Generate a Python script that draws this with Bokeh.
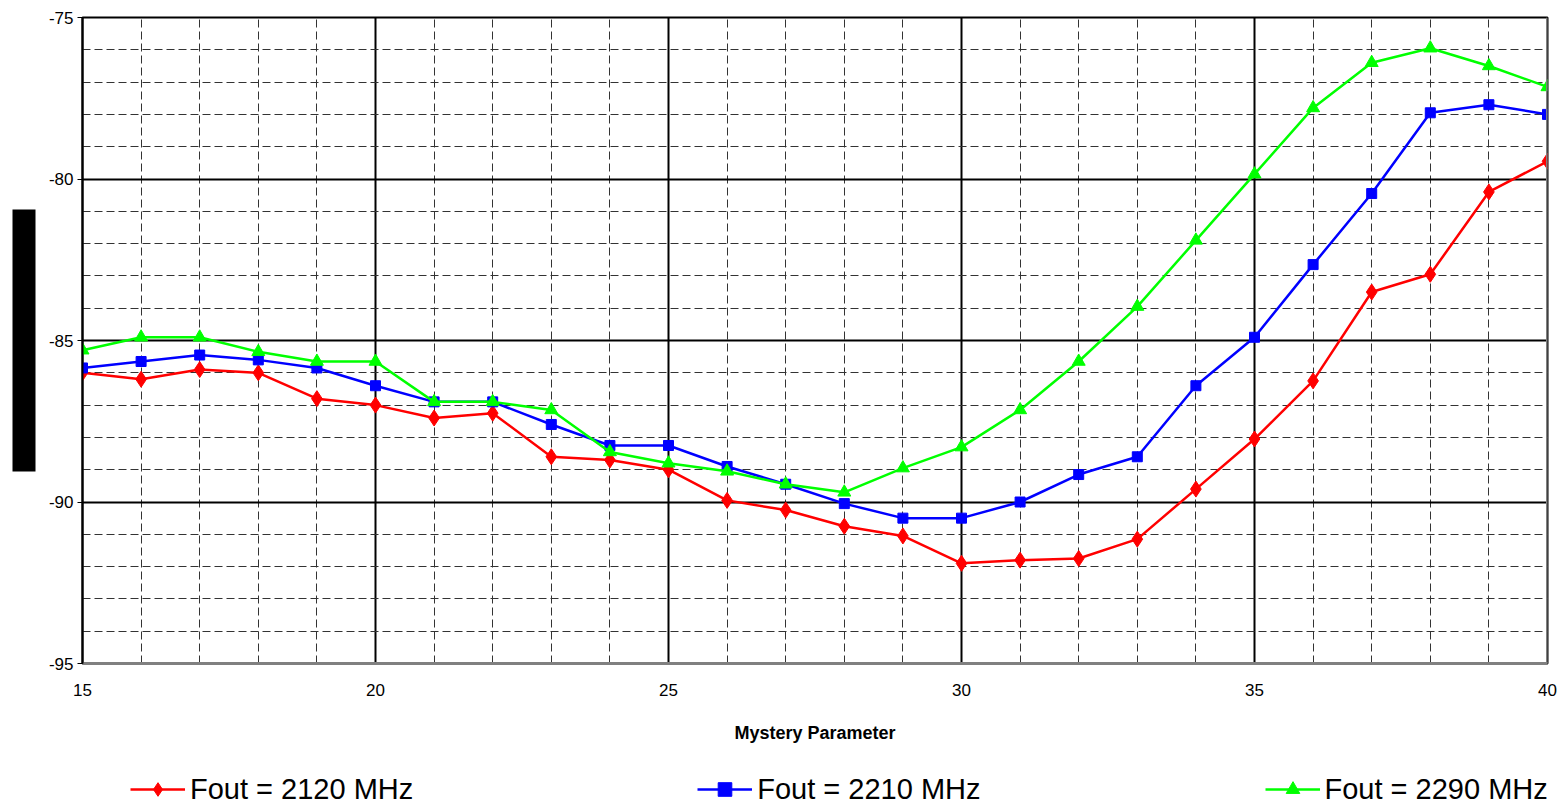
from bokeh.plotting import figure
from bokeh.layouts import column
from bokeh.models import (SingleIntervalTicker, Legend, LegendItem, Span, Title, PrintfTickFormatter)
from bokeh.embed import file_html
from bokeh.resources import INLINE

# ---- data ----
x_vals = list(range(15, 41))
fout_2120 = [-86.0, -86.2, -85.9, -86.0, -86.8, -87.0, -87.4, -87.25, -88.6, -88.7,
             -89.0, -89.95, -90.25, -90.75, -91.05, -91.9, -91.8, -91.75, -91.15, -89.6,
             -88.05, -86.25, -83.5, -82.95, -80.4, -79.45]
fout_2210 = [-85.85, -85.65, -85.45, -85.6, -85.85, -86.4, -86.9, -86.9, -87.6, -88.25,
             -88.25, -88.9, -89.45, -90.05, -90.5, -90.5, -90.0, -89.15, -88.6, -86.4,
             -84.9, -82.65, -80.45, -77.95, -77.7, -78.0]
fout_2290 = [-85.3, -84.9, -84.9, -85.35, -85.65, -85.65, -86.9, -86.9, -87.15, -88.45,
             -88.8, -89.05, -89.45, -89.7, -88.95, -88.3, -87.15, -85.65, -83.95, -81.9,
             -79.85, -77.8, -76.4, -75.95, -76.5, -77.15]
series_labels = ["Fout = 2120 MHz", "Fout = 2210 MHz", "Fout = 2290 MHz"]
series_colors = ["#FF0000", "#0000FF", "#00FF00"]
series_markers = ["diamond", "square", "triangle"]
marker_sizes = [16, 10, 13]
x_title = "Mystery Parameter"
series_values = [fout_2120, fout_2210, fout_2290]

fig = figure(width=1558, height=760, x_range=(15, 40), y_range=(-95, -75),
             output_backend="svg", toolbar_location=None,
             min_border_left=82, min_border_right=11, min_border_top=17, min_border_bottom=97)
fig.background_fill_color = "white"
fig.border_fill_color = "white"
fig.outline_line_color = "black"
fig.outline_line_width = 2

fig.xaxis.ticker = SingleIntervalTicker(interval=5, num_minor_ticks=5)
fig.yaxis.ticker = SingleIntervalTicker(interval=5, num_minor_ticks=5)
fig.yaxis.formatter = PrintfTickFormatter(format="%d")
fig.xaxis.formatter = PrintfTickFormatter(format="%d")

for g in (fig.xgrid, fig.ygrid):
    g.grid_line_color = "black"
    g.grid_line_width = 2
    g.grid_line_alpha = 1
    g.minor_grid_line_color = "#333333"
    g.minor_grid_line_width = 1
    g.minor_grid_line_dash = "8 4"

ya = fig.yaxis[0]
ya.axis_line_color = "black"
ya.axis_line_width = 2
ya.major_tick_out = 5
ya.major_tick_in = 0
ya.minor_tick_out = 0
ya.minor_tick_in = 0
ya.major_tick_line_color = "black"
ya.major_label_text_font = "Liberation Sans"
ya.major_label_text_font_size = "17px"
ya.major_label_text_color = "black"
ya.major_label_standoff = 4

xa = fig.xaxis[0]
xa.axis_line_color = "#808080"
xa.axis_line_width = 3
xa.major_tick_out = 0
xa.major_tick_in = 0
xa.minor_tick_out = 0
xa.minor_tick_in = 0
xa.major_label_text_font = "Liberation Sans"
xa.major_label_text_font_size = "17px"
xa.major_label_text_color = "black"
xa.major_label_standoff = 20
xa.axis_label = x_title
xa.axis_label_text_font = "Liberation Sans"
xa.axis_label_text_font_style = "bold"
xa.axis_label_text_font_size = "18px"
xa.axis_label_text_color = "black"
xa.axis_label_standoff = 24

fig.add_layout(Span(location=40, dimension="height", line_color="#808080", line_width=3))

# black (redacted) block left of the y axis
block = Title(text="\u2003" * 16, text_font_size="16px", text_color="black",
              background_fill_color="black", background_fill_alpha=1,
              padding=3, align="center", standoff=20)
fig.add_layout(block, "left")

for ys, col, mk, ms in zip(series_values, series_colors, series_markers, marker_sizes):
    fig.line(x_vals, ys, line_color=col, line_width=2.5)
    fig.scatter(x_vals, ys, marker=mk, size=ms, fill_color=col, line_color=col)

# legend strip below the chart (series drawn off-view so only legend samples show)
leg_fig = figure(width=1558, height=46, output_backend="svg", toolbar_location=None,
                 x_range=(15, 40), y_range=(0, 1),
                 x_axis_type=None, y_axis_type=None, min_border=0,
                 min_border_left=0, min_border_right=0, min_border_top=0, min_border_bottom=0)
leg_fig.outline_line_color = None
leg_fig.xgrid.visible = False
leg_fig.ygrid.visible = False
leg_fig.background_fill_color = "white"
leg_fig.border_fill_color = "white"

items = []
for ys, lab, col, mk, ms in zip(series_values, series_labels, series_colors,
                                series_markers, marker_sizes):
    rl = leg_fig.line(x_vals, ys, line_color=col, line_width=2.5)
    rm = leg_fig.scatter(x_vals, ys, marker=mk, size=ms, fill_color=col, line_color=col)
    items.append(LegendItem(label=lab, renderers=[rl, rm]))

legend = Legend(items=items, orientation="horizontal", location=(48, 0),
                spacing=284, glyph_width=55, glyph_height=34, label_standoff=5,
                padding=0, margin=0, border_line_color=None, background_fill_alpha=0,
                label_text_font="Liberation Sans", label_text_font_size="29px",
                label_text_color="black")
leg_fig.add_layout(legend)

p = column(fig, leg_fig, spacing=0)

open("out.html", "w").write(file_html(p, INLINE))
